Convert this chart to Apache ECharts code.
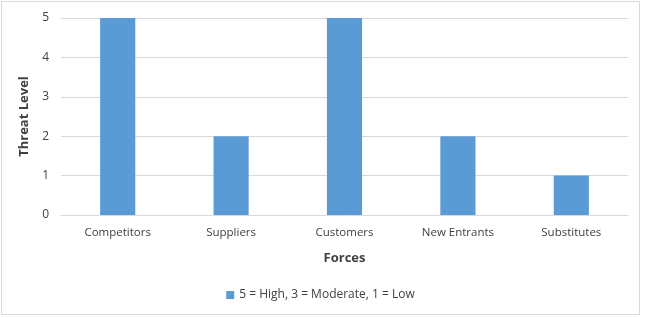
<!DOCTYPE html>
<html>
<head>
<meta charset="utf-8">
<script src="https://cdn.jsdelivr.net/npm/echarts@6/dist/echarts.min.js"></script>
<style>
  html, body { margin: 0; padding: 0; background: #fff; }
  #chart { position: absolute; left: 1px; top: 1px; width: 639px; height: 314px; border: 1px solid #d9d9d9; box-sizing: border-box; }
</style>
</head>
<body>
<div id="chart"></div>
<script>
const categories = ['Competitors', 'Suppliers', 'Customers', 'New Entrants', 'Substitutes'];
const threatLevels = [5, 2, 5, 2, 1];
const seriesName = '5 = High, 3 = Moderate, 1 = Low';

const chart = echarts.init(document.getElementById('chart'));
const font = '"Open Sans", "Liberation Sans", sans-serif';
chart.setOption({
  animation: false,
  textStyle: { fontFamily: font },
  grid: { left: 59, right: 11, top: 16, bottom: 99 },
  legend: {
    bottom: 8,
    left: 'center',
    itemWidth: 8,
    itemHeight: 8,
    itemGap: 4,
    icon: 'rect',
    textStyle: { color: '#404040', fontSize: 12, fontFamily: font },
    data: [seriesName],
  },
  xAxis: {
    type: 'category',
    data: categories,
    name: 'Forces',
    nameLocation: 'middle',
    nameGap: 37,
    nameTextStyle: { fontWeight: 'bold', fontSize: 13, color: '#404040' },
    axisLine: { lineStyle: { color: '#d9d9d9' } },
    axisTick: { show: false },
    axisLabel: { color: '#404040', fontSize: 11.5, margin: 12 },
  },
  yAxis: {
    type: 'value',
    min: 0,
    max: 5,
    interval: 1,
    name: 'Threat Level',
    nameLocation: 'middle',
    nameGap: 20,
    nameTextStyle: { fontWeight: 'bold', fontSize: 13, color: '#404040' },
    axisLine: { show: false },
    axisTick: { show: false },
    axisLabel: { color: '#404040', fontSize: 12, margin: 12 },
    splitLine: { lineStyle: { color: '#d9d9d9' } },
  },
  series: [{
    name: seriesName,
    type: 'bar',
    data: threatLevels,
    barWidth: '31%',
    itemStyle: { color: '#5b9bd5' },
  }],
});
</script>
</body>
</html>
